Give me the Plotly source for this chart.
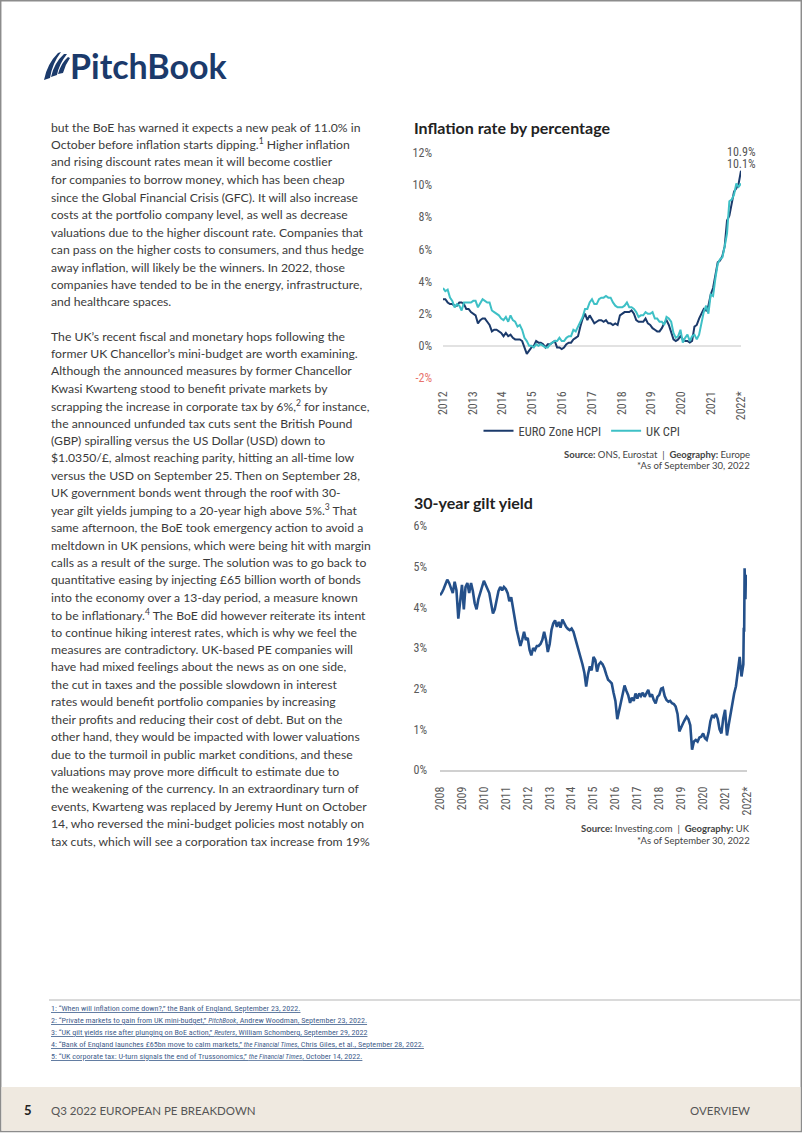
import numpy as np
import pandas as pd
import plotly.graph_objects as go

W, H = 802, 1133
def fx(x): return x / W
def fy(y): return 1 - y / H

# ---------------- data ----------------
# Inflation (monthly, Jan 2012 - Sep 2022)
euro_hicp = [
    2.9, 2.9, 2.7, 2.6, 2.6, 2.5, 2.5, 2.7, 2.7, 2.6, 2.3, 2.3,
    2.1, 2.0, 1.9, 1.4, 1.6, 1.7, 1.7, 1.5, 1.3, 0.9, 1.0, 1.0,
    0.9, 0.8, 0.6, 0.8, 0.6, 0.7, 0.5, 0.4, 0.4, 0.4, 0.3, -0.1,
    -0.5, -0.3, -0.1, 0.0, 0.3, 0.2, 0.2, 0.1, -0.1, 0.1, 0.1, 0.2,
    0.3, -0.1, -0.1, -0.2, -0.1, 0.1, 0.2, 0.2, 0.4, 0.5, 0.6, 1.2,
    1.7, 2.0, 1.6, 1.9, 1.6, 1.4, 1.5, 1.6, 1.6, 1.5, 1.6, 1.4,
    1.4, 1.3, 1.4, 1.3, 1.9, 2.0, 2.1, 2.1, 2.1, 2.2, 2.0, 1.6,
    1.5, 1.5, 1.5, 1.7, 1.4, 1.3, 1.1, 1.0, 0.9, 0.9, 1.1, 1.4,
    1.6, 1.3, 0.9, 0.4, 0.3, 0.4, 0.6, 0.4, 0.3, 0.3, 0.2, 0.3,
    1.2, 1.3, 1.7, 2.0, 2.3, 2.2, 2.5, 3.2, 3.6, 4.4, 5.2, 5.3,
    5.6, 6.2, 7.8, 8.1, 8.8, 9.6, 9.8, 10.1, 10.9,
]
uk_cpi = [
    3.6, 3.4, 3.5, 3.0, 2.8, 2.4, 2.6, 2.5, 2.2, 2.7, 2.7, 2.7,
    2.7, 2.8, 2.8, 2.4, 2.7, 2.9, 2.8, 2.7, 2.7, 2.2, 2.1, 2.0,
    1.9, 1.7, 1.6, 1.8, 1.5, 1.9, 1.6, 1.5, 1.2, 1.3, 1.0, 0.5,
    0.3, 0.0, 0.0, -0.1, 0.1, 0.0, 0.1, 0.0, -0.1, -0.1, 0.1, 0.2,
    0.3, 0.3, 0.5, 0.3, 0.3, 0.5, 0.6, 0.6, 1.0, 0.9, 1.2, 1.6,
    1.8, 2.3, 2.3, 2.7, 2.9, 2.6, 2.6, 2.9, 3.0, 3.0, 3.1, 3.0,
    3.0, 2.7, 2.5, 2.4, 2.4, 2.4, 2.5, 2.7, 2.4, 2.4, 2.3, 2.1,
    1.8, 1.9, 1.9, 2.1, 2.0, 2.0, 2.1, 1.7, 1.7, 1.5, 1.5, 1.3,
    1.8, 1.7, 1.5, 0.8, 0.5, 0.6, 1.0, 0.2, 0.5, 0.7, 0.3, 0.6,
    0.7, 0.4, 0.7, 1.5, 2.1, 2.5, 2.0, 3.2, 3.1, 4.2, 5.1, 5.4,
    5.5, 6.2, 7.0, 9.0, 9.1, 9.4, 10.1, 9.9, 10.1,
]
infl_tick_labels = ["2012", "2013", "2014", "2015", "2016", "2017", "2018",
                    "2019", "2020", "2021", "2022*"]
infl_y_ticks = [-2, 0, 2, 4, 6, 8, 10, 12]

# 30-year gilt yield, monthly readings (axis-label time, Jan 2008 - Oct 2021)
gilt_monthly = [
    4.30, 4.36, 4.45, 4.58, 4.68, 4.60, 4.48, 4.35, 4.63, 4.42, 3.72, 4.15,
    4.55, 3.95, 4.50, 4.60, 4.35, 4.60, 4.40, 4.10, 3.95, 4.20, 4.35, 4.45,
    4.65, 4.55, 4.45, 4.35, 4.10, 3.85, 3.95, 4.20, 4.40, 4.50, 4.42, 4.50,
    4.45, 4.35, 4.15, 4.25, 3.95, 3.65, 3.45, 3.25, 3.05, 3.20, 3.40, 3.20,
    3.25, 2.95, 2.82, 3.00, 2.95, 3.05, 3.05, 3.10, 3.20, 3.40, 3.20, 2.90,
    3.10, 3.45, 3.60, 3.68, 3.52, 3.64, 3.50, 3.70, 3.60, 3.52, 3.47, 3.44,
    3.48, 3.40, 3.25, 3.10, 2.95, 2.80, 2.60, 2.40, 2.05, 2.35, 2.55, 2.45,
    2.78, 2.70, 2.42, 2.60, 2.65, 2.60, 2.50, 2.35, 2.22, 2.18, 2.13, 1.90,
    1.70, 1.25, 1.45, 1.70, 1.95, 2.08, 1.95, 1.84, 1.65, 1.78, 1.70, 1.88,
    1.76, 1.88, 1.82, 1.90, 1.80, 1.88, 1.97, 1.80, 1.86, 1.72, 1.64, 1.80,
    1.85, 2.00, 2.02, 1.82, 1.72, 1.68, 1.70, 1.64, 1.62, 1.56, 1.38, 0.95,
    1.07, 1.15, 1.23, 1.31, 1.25, 1.10, 0.50, 0.70, 0.74, 0.70, 0.80, 0.82,
    0.90, 0.78, 0.74, 0.92, 1.20, 1.35, 1.30, 1.38, 1.25, 1.00, 0.90, 1.27,
    1.48, 0.85, 1.10, 1.38, 1.60, 1.88, 2.06, 2.40, 2.78, 2.30,
]
# final weeks (from Nov 2021 on the axis-label scale)
gilt_tail = [2.60, 3.50, 3.40, 4.96, 4.40, 4.20, 4.80]
gilt_tick_labels = ["2008", "2009", "2010", "2011", "2012", "2013", "2014",
                    "2015", "2016", "2017", "2018", "2019", "2020", "2021", "2022*"]
gilt_y_ticks = [0, 1, 2, 3, 4, 5, 6]

body_p1 = [
    "but the BoE has warned it expects a new peak of 11.0% in",
    "October before inflation starts dipping.<sup>1</sup> Higher inflation",
    "and rising discount rates mean it will become costlier",
    "for companies to borrow money, which has been cheap",
    "since the Global Financial Crisis (GFC). It will also increase",
    "costs at the portfolio company level, as well as decrease",
    "valuations due to the higher discount rate. Companies that",
    "can pass on the higher costs to consumers, and thus hedge",
    "away inflation, will likely be the winners. In 2022, those",
    "companies have tended to be in the energy, infrastructure,",
    "and healthcare spaces.",
]
body_p2 = [
    "The UK’s recent fiscal and monetary hops following the",
    "former UK Chancellor’s mini-budget are worth examining.",
    "Although the announced measures by former Chancellor",
    "Kwasi Kwarteng stood to benefit private markets by",
    "scrapping the increase in corporate tax by 6%,<sup>2</sup> for instance,",
    "the announced unfunded tax cuts sent the British Pound",
    "(GBP) spiralling versus the US Dollar (USD) down to",
    "$1.0350/£, almost reaching parity, hitting an all-time low",
    "versus the USD on September 25. Then on September 28,",
    "UK government bonds went through the roof with 30-",
    "year gilt yields jumping to a 20-year high above 5%.<sup>3</sup> That",
    "same afternoon, the BoE took emergency action to avoid a",
    "meltdown in UK pensions, which were being hit with margin",
    "calls as a result of the surge. The solution was to go back to",
    "quantitative easing by injecting £65 billion worth of bonds",
    "into the economy over a 13-day period, a measure known",
    "to be inflationary.<sup>4</sup> The BoE did however reiterate its intent",
    "to continue hiking interest rates, which is why we feel the",
    "measures are contradictory. UK-based PE companies will",
    "have had mixed feelings about the news as on one side,",
    "the cut in taxes and the possible slowdown in interest",
    "rates would benefit portfolio companies by increasing",
    "their profits and reducing their cost of debt. But on the",
    "other hand, they would be impacted with lower valuations",
    "due to the turmoil in public market conditions, and these",
    "valuations may prove more difficult to estimate due to",
    "the weakening of the currency. In an extraordinary turn of",
    "events, Kwarteng was replaced by Jeremy Hunt on October",
    "14, who reversed the mini-budget policies most notably on",
    "tax cuts, which will see a corporation tax increase from 19%",
]
ITAL = '<span style="font-style:italic;font-size:7.2px">%s</span>'
footnotes = [
    "1: “When will inflation come down?,” the Bank of England, September 23, 2022.",
    "2: “Private markets to gain from UK mini-budget,” " + ITAL % "PitchBook" + ", Andrew Woodman, September 23, 2022.",
    "3: “UK gilt yields rise after plunging on BoE action,” " + ITAL % "Reuters" + ", William Schomberg, September 29, 2022",
    "4: “Bank of England launches £65bn move to calm markets,” " + ITAL % "the Financial Times" + ", Chris Giles, et al., September 28, 2022.",
    "5: “UK corporate tax: U-turn signals the end of Trussonomics,” " + ITAL % "the Financial Times" + ", October 14, 2022.",
]

# ---------------- style ----------------
NAVY = "#1b3a6b"
TEAL = "#3ec0c6"
GILT = "#24508a"
TXT = "#3b3b3b"
COND = "Liberation Sans Narrow, Roboto Condensed, DejaVu Sans Condensed, Liberation Sans, sans-serif"
BODY = "Lato, Open Sans, sans-serif"

fig = go.Figure()

n = len(euro_hicp)
idx = list(range(n))
fig.add_trace(go.Scatter(x=idx, y=euro_hicp, name="EURO Zone HCPI", mode="lines",
                         line=dict(color=NAVY, width=2), xaxis="x", yaxis="y"))
fig.add_trace(go.Scatter(x=idx, y=uk_cpi, name="UK CPI", mode="lines",
                         line=dict(color=TEAL, width=2), xaxis="x", yaxis="y"))

gilt_x = list(pd.date_range("2008-01-01", periods=len(gilt_monthly), freq="MS")) + \
         list(pd.date_range("2021-11-01", periods=len(gilt_tail), freq="7D"))
gilt_y = gilt_monthly + gilt_tail
fig.add_trace(go.Scatter(x=gilt_x, y=gilt_y, mode="lines", showlegend=False,
                         line=dict(color=GILT, width=2.6), xaxis="x2", yaxis="y2"))

tickfont = dict(family=COND, size=12, color="#5a5a5a")

infl_tickvals = list(np.linspace(0, n - 1, len(infl_tick_labels)))
y_text = [('<span style="color:#e8746c">%d%%</span>' % v) if v < 0 else "%d%%" % v
          for v in infl_y_ticks]

gilt_tickvals = ["%s-01-01" % lbl[:4] for lbl in gilt_tick_labels]

fig.update_layout(
    width=W, height=H, autosize=False, margin=dict(l=0, r=0, t=0, b=0, autoexpand=False),
    paper_bgcolor="white", plot_bgcolor="white",
    xaxis=dict(domain=[fx(443), fx(741)], range=[0, n - 1], anchor="y",
               tickvals=infl_tickvals, ticktext=infl_tick_labels, tickangle=-90,
               showgrid=False, zeroline=False, showline=False, ticks="",
               tickfont=tickfont, ticklabelstandoff=10),
    yaxis=dict(domain=[fy(378), fy(153)], range=[-2, 12], anchor="x",
               tickvals=infl_y_ticks, ticktext=y_text, showgrid=False,
               zeroline=True, zerolinecolor="#e2e2e2", zerolinewidth=1.5,
               showline=False, ticks="", tickfont=tickfont, ticklabelstandoff=10),
    xaxis2=dict(type="date", domain=[fx(440), fx(747)],
                range=["2008-01-01", "2022-01-01"], anchor="y2",
                tickvals=gilt_tickvals, ticktext=gilt_tick_labels, tickangle=-90,
                showgrid=False, zeroline=False, showline=True, linecolor="#d0d0d0",
                linewidth=1.5, ticks="", tickfont=tickfont, ticklabelstandoff=10),
    yaxis2=dict(domain=[fy(770), fy(526)], range=[0, 6], anchor="x2",
                tickvals=gilt_y_ticks, ticktext=["%d%%" % v for v in gilt_y_ticks],
                showgrid=False, zeroline=False, showline=False, ticks="",
                tickfont=tickfont, ticklabelstandoff=12),
    legend=dict(orientation="h", x=fx(582), xanchor="center", y=fy(431),
                yanchor="middle", font=dict(family=COND, size=12.5, color="#444444"),
                itemwidth=30, tracegroupgap=0, bgcolor="rgba(0,0,0,0)"),
    showlegend=True,
)

ann = []
def text(x, y, s, size=12.2, color=TXT, family=BODY, anchor="left", **kw):
    ann.append(dict(x=fx(x), y=fy(y), xref="paper", yref="paper", text=s,
                    showarrow=False, xanchor=anchor, yanchor="middle",
                    font=dict(family=family, size=size, color=color), **kw))

# body
for i, line in enumerate(body_p1):
    text(49, 127 + 17.5 * i, line)
for i, line in enumerate(body_p2):
    text(49, 336 + 17.42 * i, line)

# chart titles / sources
text(412, 128, "<b>Inflation rate by percentage</b>", size=16, color="#222222")
text(752, 454, "<b>Source:</b> ONS, Eurostat  |  <b>Geography:</b> Europe", size=9.5,
     color="#444444", anchor="right")
text(752, 465, "*As of September 30, 2022", size=9.5, color="#444444", anchor="right")
text(412, 502, "<b>30-year gilt yield</b>", size=16, color="#222222")
text(752, 828, "<b>Source:</b> Investing.com  |  <b>Geography:</b> UK", size=9.5,
     color="#444444", anchor="right")
text(752, 840, "*As of September 30, 2022", size=9.5, color="#444444", anchor="right")

# end labels for inflation chart
ann.append(dict(x=n - 1, y=fy(152), xref="x", yref="paper", text="%.1f%%" % euro_hicp[-1],
                showarrow=False, xanchor="center", yanchor="middle",
                font=dict(family=COND, size=12, color="#555555")))
ann.append(dict(x=n - 1, y=fy(164), xref="x", yref="paper", text="%.1f%%" % uk_cpi[-1],
                showarrow=False, xanchor="center", yanchor="middle",
                font=dict(family=COND, size=12, color="#555555")))

# footnotes
for i, fn in enumerate(footnotes):
    text(49, 1008 + 12.1 * i, "<u>" + fn + "</u>", size=8.1, color="#3f5e8c", family=COND)

# footer
text(22, 1110, "<b>5</b>", size=13, color="#222222")
text(49, 1110, "Q3 2022 EUROPEAN PE BREAKDOWN", size=11.5, color="#555555", family=BODY)
text(752, 1110, "OVERVIEW", size=11.5, color="#555555", family=BODY, anchor="right")

# logo wordmark
text(68, 66, "<b>PitchBook</b>", size=34, color=NAVY, family="Lato, Open Sans, sans-serif")

fig.update_layout(annotations=ann)

def pth(cmds):
    out = []
    for c in cmds:
        if isinstance(c, str):
            out.append(c)
        else:
            out.append("%.5f,%.5f" % (fx(c[0]), fy(c[1])))
    return " ".join(out)

shapes = [
    # page border
    dict(type="rect", xref="paper", yref="paper", x0=fx(0.7), x1=fx(801.3), y0=fy(1131.5), y1=fy(0.7),
         line=dict(color="#8c8c8c", width=1.5), layer="below"),
    # footer band
    dict(type="rect", xref="paper", yref="paper", x0=fx(1.5), x1=fx(800.5), y0=fy(1130.8), y1=fy(1087),
         fillcolor="#efe9e0", line=dict(width=0), layer="below"),
    # footnote separator
    dict(type="line", xref="paper", yref="paper", x0=fx(49), x1=fx(800), y0=fy(1000), y1=fy(1000),
         line=dict(color="#b5b5b5", width=1)),
    # logo sails
    dict(type="path", xref="paper", yref="paper", fillcolor=NAVY, line=dict(width=0),
         path=pth(["M", (44, 80), "Q", (47, 64), (58, 53), "L", (61, 52), "Q", (52, 64), (50, 78), "Z"])),
    dict(type="path", xref="paper", yref="paper", fillcolor=NAVY, line=dict(width=0),
         path=pth(["M", (51, 77), "Q", (54, 63), (64, 54), "L", (67, 54), "Q", (59, 64), (57, 75), "Z"])),
    dict(type="path", xref="paper", yref="paper", fillcolor=NAVY, line=dict(width=0),
         path=pth(["M", (58, 74), "Q", (61, 63), (68, 57), "L", (70, 58), "Q", (65, 65), (63, 73), "Z"])),
]
fig.update_layout(shapes=shapes)

post = (
    "document.documentElement.style.margin='0';"
    "document.body.style.margin='0';document.body.style.padding='0';"
    "document.body.style.overflow='hidden';"
    "var gd=document.getElementById('{plot_id}');"
    "Plotly.relayout(gd,{width:%d,height:%d});" % (W, H)
)
fig.write_html("out.html", config={"displayModeBar": False, "responsive": False},
               post_script=post)
